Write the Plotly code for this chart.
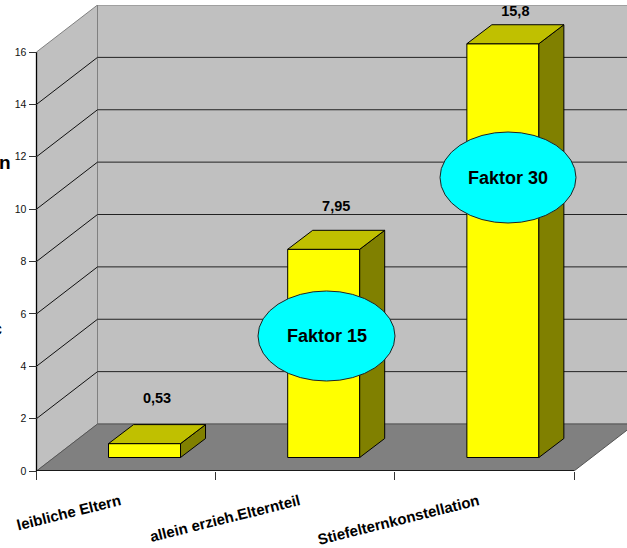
import plotly.graph_objects as go

categories = ["leibliche Eltern", "allein erzieh.Elternteil", "Stiefelternkonstellation"]
values = [0.53, 7.95, 15.8]
value_labels = ["0,53", "7,95", "15,8"]
y_ticks = [0, 2, 4, 6, 8, 10, 12, 14, 16]
callouts = ["Faktor 15", "Faktor 30"]

W, H = 627, 548
PX_L, PX_R, PX_0, PX_16, PX_TOP = 36.5, 574.0, 471.0, 52.0, 5.0
ux = (PX_R - PX_L) / 3
uy = (PX_0 - PX_16) / 16


def X(px):
    return (px - PX_L) / ux - 0.5


def Y(px):
    return (PX_0 - px) / uy


DX, DY = 61 / ux, 47 / uy          # depth of the chart box
BDX, BDY = 25 / ux, 19 / uy        # depth of a bar
BASE = 13.5 / uy
BAR_W = 72 / ux
BAR_OFF = -0.098
XL, XR = -0.5, 2.5
LABEL_GAP = [2.22, 2.13, 1.72]     # vertical gap from value to its label
TICK_SHIFT = 6 / ux

fig = go.Figure()


def poly(xs, ys, fill, line="#808080", w=1):
    return dict(type="path", xref="x", yref="y", layer="below", fillcolor=fill,
                line=dict(color=line, width=w),
                path="M" + " L".join(f"{a},{b}" for a, b in zip(xs, ys)) + " Z")


def seg(x0, y0, x1, y1, color, w=1, layer="below"):
    return dict(type="line", xref="x", yref="y", layer=layer, x0=x0, y0=y0, x1=x1, y1=y1,
                line=dict(color=color, width=w))


shapes = [
    poly([XL, XL + DX, XL + DX, XL], [0, DY, 16 + DY, 16], "#C0C0C0"),
    poly([XL + DX, XR + DX, XR + DX, XL + DX], [DY, DY, 16 + DY, 16 + DY], "#C0C0C0"),
    poly([XL, XR, XR + DX, XL + DX], [0, 0, DY, DY], "#808080", "#555555"),
]
for t in y_ticks[1:-1]:
    shapes.append(seg(XL, t, XL + DX, t + DY, "#111111"))
    shapes.append(seg(XL + DX, t + DY, XR + DX, t + DY, "#222222"))
shapes.append(seg(XL, 0, XL, 16, "#000000", 1.3))
shapes.append(seg(XL, 0, XR, 0, "#000000", 1.3))

ellipses = [(258, 395, 291, 381), (440, 576, 132, 223)]
annotations = []
for text, (a, b, c, d) in zip(callouts, ellipses):
    shapes.append(dict(type="circle", xref="x", yref="y", layer="above",
                       x0=X(a), x1=X(b), y0=Y(d), y1=Y(c), fillcolor="#00FFFF",
                       line=dict(color="#222222", width=1)))
    annotations.append(dict(x=X((a + b) / 2), y=Y((c + d) / 2), text=f"<b>{text}</b>",
                            showarrow=False, font=dict(size=18, color="#000000",
                                                       family="Liberation Sans")))
annotations.append(dict(xref="paper", x=0, xanchor="left", y=Y(162), yanchor="middle",
                        text="<b>n</b>", showarrow=False, xshift=-2, borderpad=0,
                        font=dict(size=19, color="#000000", family="Liberation Sans")))
annotations.append(dict(xref="paper", x=0, xanchor="right", y=Y(329), yanchor="middle",
                        text="<b>c</b>", showarrow=False, xshift=3, borderpad=0,
                        font=dict(size=18, color="#000000", family="Liberation Sans")))

xs = list(range(len(categories)))
fig.add_trace(go.Bar(x=xs, y=values, base=BASE, width=BAR_W, offset=BAR_OFF,
                     marker=dict(color="#FFFF00", line=dict(color="#000000", width=1)),
                     showlegend=False, hoverinfo="skip"))

for i, v in zip(xs, values):
    x0 = i + BAR_OFF
    x1 = x0 + BAR_W
    top = BASE + v
    fig.add_trace(go.Scatter(x=[x1, x1 + BDX, x1 + BDX, x1, x1],
                             y=[BASE, BASE + BDY, top + BDY, top, BASE],
                             mode="lines", fill="toself", fillcolor="#808000",
                             line=dict(color="#000000", width=1),
                             showlegend=False, hoverinfo="skip"))
    fig.add_trace(go.Scatter(x=[x0, x1, x1 + BDX, x0 + BDX, x0],
                             y=[top, top, top + BDY, top + BDY, top],
                             mode="lines", fill="toself", fillcolor="#C0C000",
                             line=dict(color="#000000", width=1),
                             showlegend=False, hoverinfo="skip"))

fig.add_trace(go.Scatter(x=[i + BAR_OFF + BAR_W / 2 + BDX / 2 for i in xs],
                         y=[v + g for v, g in zip(values, LABEL_GAP)],
                         mode="text", text=[f"<b>{t}</b>" for t in value_labels],
                         textfont=dict(size=14.5, color="#000000", family="Liberation Sans"),
                         cliponaxis=False, showlegend=False, hoverinfo="skip"))

fig.update_layout(
    width=W, height=H, margin=dict(l=0, r=0, t=PX_TOP, b=H - PX_0),
    paper_bgcolor="#FFFFFF", plot_bgcolor="#FFFFFF",
    shapes=shapes, annotations=annotations, showlegend=False,
    xaxis=dict(range=[X(0), X(W)], domain=[0, 1], showgrid=False, zeroline=False, showline=False,
               tickmode="array", tickvals=[i - TICK_SHIFT for i in xs],
               ticktext=[f"<b>{c}</b>" for c in categories],
               tickangle=-14, ticks="", ticklabelstandoff=18,
               tickfont=dict(size=15, color="#000000", family="Liberation Sans"),
               minor=dict(tickmode="array", tickvals=[-0.5, 0.5, 1.5, 2.5], ticks="outside",
                          ticklen=8, tickcolor="#333333", tickwidth=1, showgrid=False)),
    yaxis=dict(range=[0, Y(PX_TOP)], anchor="free", position=PX_L / W, showgrid=False,
               zeroline=False, showline=False, tickmode="array", tickvals=y_ticks,
               ticks="outside", ticklen=8, tickcolor="#333333", tickwidth=1,
               tickfont=dict(size=10.5, color="#111111", family="Liberation Sans")),
)

fig.write_html("out.html", config=dict(displayModeBar=False),
               post_script="document.body.style.margin='0';document.documentElement.style.overflow='hidden';")
